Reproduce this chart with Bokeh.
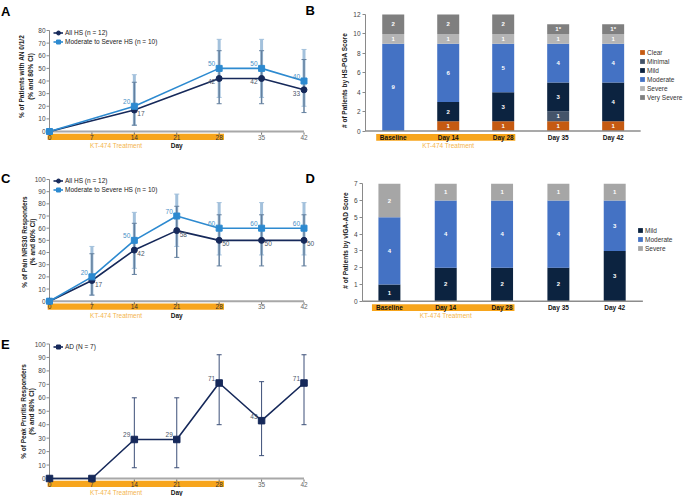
import math
from bokeh.plotting import figure
from bokeh.layouts import column, row
from bokeh.models import (Range1d, ColumnDataSource, Whisker, TeeHead,
                          Legend, LegendItem, FixedTicker)
from bokeh.embed import file_html
from bokeh.resources import INLINE
from bokeh.core.properties import value

# ---------------------------------------------------------------- data
# Panel A: AN 0/1/2 responders (%), 80% CI
days_A = [0, 14, 28, 35, 42]
all_hs_A = [0, 17, 42, 42, 33]
all_hs_A_lo = [0, 5, 22, 22, 15]
all_hs_A_hi = [0, 39, 64, 64, 57]
mod_hs_A = [0, 20, 50, 50, 40]
mod_hs_A_lo = [0, 5, 27, 27, 20]
mod_hs_A_hi = [0, 45, 73, 73, 65]

# Panel C: Pain NRS30 responders (%), 80% CI
days_C = [0, 7, 14, 21, 28, 35, 42]
all_hs_C = [0, 17, 42, 58, 50, 50, 50]
all_hs_C_lo = [0, 5, 22, 36, 29, 29, 29]
all_hs_C_hi = [0, 39, 64, 78, 71, 71, 71]
mod_hs_C = [0, 20, 50, 70, 60, 60, 60]
mod_hs_C_lo = [0, 5, 27, 45, 38, 38, 38]
mod_hs_C_hi = [0, 45, 73, 88, 81, 81, 81]

# Panel E: Peak pruritus responders (%), 80% CI
days_E = [0, 7, 14, 21, 28, 35, 42]
ad_E = [0, 0, 29, 29, 71, 43, 71]
ad_E_lo = [0, 0, 8, 8, 40, 17, 40]
ad_E_hi = [0, 0, 60, 60, 92, 72, 92]

series_all_hs = "All HS (n = 12)"
series_mod_hs = "Moderate to Severe HS (n = 10)"
series_ad = "AD (N = 7)"

day_ticks = [0, 7, 14, 21, 28, 35, 42]
pct_ticks_A = [0, 10, 20, 30, 40, 50, 60, 70, 80]
pct_ticks = [0, 10, 20, 30, 40, 50, 60, 70, 80, 90, 100]
treatment_days = [0, 28]
treatment_label = "KT-474 Treatment"

# Panel B: HS-PGA score counts
visits = ["Baseline", "Day 14", "Day 28", "Day 35", "Day 42"]
treatment_visits = ["Baseline", "Day 14", "Day 28"]
pga_levels = ["Clear", "Minimal", "Mild", "Moderate", "Severe", "Very Severe"]
pga_clear = [0, 1, 1, 1, 1]
pga_minimal = [0, 0, 0, 1, 0]
pga_mild = [0, 2, 3, 3, 4]
pga_moderate = [9, 6, 5, 4, 4]
pga_severe = [1, 1, 1, 1, 1]
pga_very_severe = [2, 2, 2, 1, 1]
pga_very_severe_note = ["", "", "", "*", "*"]
pga_ticks = [0, 2, 4, 6, 8, 10, 12]

# Panel D: vIGA-AD score counts
viga_levels = ["Mild", "Moderate", "Severe"]
viga_mild = [1, 2, 2, 2, 3]
viga_moderate = [4, 4, 4, 4, 3]
viga_severe = [2, 1, 1, 1, 1]
viga_ticks = [0, 1, 2, 3, 4, 5, 6, 7]

# ---------------------------------------------------------------- style
FONT = "Liberation Sans"
ORANGE = "#f7a51c"
ORANGE_TXT = "#f4b54c"
NAVY = "#16295a"
BLUE = "#2d8ad0"
NAVY_TXT = "#4a5568"
BLUE_TXT = "#4a8fc6"
WH_NAVY = "#64809f"
WH_BLUE = "#a3c1dc"
AXIS = "#8a8a8a"
FS = "6.5px"

pga_colors = ["#c55a11", "#44546a", "#0c2340", "#4472c4", "#b4b4b4", "#7f7f7f"]
viga_colors = ["#0c2340", "#4472c4", "#a6a6a6"]


class G:
    def __init__(s, px, py, w, h, bl, br, bt, bb):
        s.px, s.py, s.w, s.h = px, py, w, h
        s.bl, s.br, s.bt, s.bb = bl, br, bt, bb
        s.fl = px + bl
        s.fr = px + w - br
        s.ft = py + bt
        s.fb = py + h - bb


def lin(m, pix):
    v0, p0, v1, p1 = m
    return v0 + (pix - p0) * (v1 - v0) / (p1 - p0)


def make_fig(g, xm, ym, yaxis):
    p = figure(width=g.w, height=g.h,
               x_range=Range1d(lin(xm, g.fl), lin(xm, g.fr)),
               y_range=Range1d(lin(ym, g.fb), lin(ym, g.ft)),
               output_backend="svg", toolbar_location=None,
               x_axis_location=None, y_axis_location="left" if yaxis else None,
               min_border_left=g.bl, min_border_right=g.br,
               min_border_top=g.bt, min_border_bottom=g.bb,
               outline_line_color=None, background_fill_color="white",
               border_fill_color="white")
    p.grid.visible = False
    return p


def style_yaxis(p, ticks, label):
    ax = p.yaxis[0]
    ax.ticker = FixedTicker(ticks=ticks)
    ax.bounds = (ticks[0], ticks[-1])
    ax.axis_label = label
    ax.axis_label_text_font = FONT
    ax.axis_label_text_font_style = "bold"
    ax.axis_label_text_font_size = FS
    ax.axis_label_text_color = "#1a1a1a"
    ax.axis_label_standoff = 2
    ax.axis_line_color = AXIS
    ax.axis_line_width = 1
    ax.major_tick_line_color = AXIS
    ax.major_tick_out = 3
    ax.major_tick_in = 0
    ax.minor_tick_line_color = None
    ax.major_label_text_font = FONT
    ax.major_label_text_font_size = FS
    ax.major_label_text_color = "#444444"
    ax.major_label_standoff = 2


def manual_yaxis(p, xm, ym, ticks, lines, line_x_pages, center_page):
    n = len(ticks)
    x0 = day_ticks[0]
    p.segment(x0=[x0], x1=[x0], y0=[ticks[0]], y1=[ticks[-1]], line_color=AXIS, line_width=1)
    p.segment(x0=[lin(xm, xm[1] - 3)] * n, x1=[x0] * n, y0=ticks, y1=ticks,
              line_color=AXIS, line_width=1)
    p.text(x=[lin(xm, xm[1] - 4)] * n, y=ticks, text=[str(t) for t in ticks],
           text_font=value(FONT), text_font_size=FS, text_color="#444444",
           text_align="right", text_baseline="middle")
    for line, lx in zip(lines, line_x_pages):
        p.text(x=[lin(xm, lx)], y=[lin(ym, center_page)], text=[line], angle=math.pi / 2,
               text_font=value(FONT), text_font_size=FS, text_font_style="bold",
               text_color="#1a1a1a", text_align="center", text_baseline="middle")


def letter(p, xm, ym, text, page_x, page_y):
    p.text(x=[lin(xm, page_x)], y=[lin(ym, page_y)], text=[text], text_font=value(FONT),
           text_font_style="bold", text_font_size="13px", text_baseline="top",
           text_align="left", text_color="#000000")


def day_axis(p, ym, caption_day):
    z = ym[1]
    n = len(day_ticks)
    p.quad(left=[treatment_days[0] - 0.3], right=[treatment_days[1] + 0.8],
           top=[lin(ym, z + 2.3)], bottom=[lin(ym, z + 8.6)],
           fill_color=ORANGE, line_color=None)
    p.segment(x0=[day_ticks[0]], x1=[day_ticks[-1]], y0=[0], y1=[0],
              line_color="#a8a8a8", line_width=2)
    p.segment(x0=day_ticks, x1=day_ticks, y0=[lin(ym, z + 1)] * n, y1=[lin(ym, z + 3.2)] * n,
              line_color="#6e6e6e", line_width=1)
    cols = ["#333333" if treatment_days[0] <= d <= treatment_days[1] else "#666666" for d in day_ticks]
    p.text(x=day_ticks, y=[lin(ym, z + 5.6)] * n, text=[str(d) for d in day_ticks],
           text_font=value(FONT), text_font_size=FS, text_color=cols,
           text_align="center", text_baseline="middle")
    p.text(x=[caption_day], y=[lin(ym, z + 14)], text=[treatment_label],
           text_font=value(FONT), text_font_size=FS, text_color=ORANGE_TXT,
           text_align="center", text_baseline="middle")
    p.text(x=[(day_ticks[0] + day_ticks[-1]) / 2], y=[lin(ym, z + 14)], text=["Day"],
           text_font=value(FONT), text_font_size=FS, text_font_style="bold",
           text_color="#111111", text_align="center", text_baseline="middle")


def whiskers(p, xs, lo, hi, color, width):
    keep = [i for i in range(len(xs)) if hi[i] > lo[i]]
    src = ColumnDataSource(dict(x=[xs[i] for i in keep], lo=[lo[i] for i in keep],
                                hi=[hi[i] for i in keep]))
    p.add_layout(Whisker(source=src, base="x", lower="lo", upper="hi", dimension="height",
                         line_color=color, line_width=width,
                         upper_head=TeeHead(size=5, line_color=color, line_width=1),
                         lower_head=TeeHead(size=5, line_color=color, line_width=1)))


def point_labels(p, xs, ys, sides, color):
    for side in ("lu", "ld", "ru", "rd"):
        idx = [i for i, s in enumerate(sides) if s == side]
        if not idx:
            continue
        p.text(x=[xs[i] for i in idx], y=[ys[i] for i in idx], text=[str(ys[i]) for i in idx],
               text_font=value(FONT), text_font_size=FS, text_color=color,
               text_align="right" if side[0] == "l" else "left",
               text_baseline="bottom" if side[1] == "u" else "top",
               x_offset=-4 if side[0] == "l" else 3,
               y_offset=-2 if side[1] == "u" else 1)


def line_legend(p, g, items, centers, glyph_x_page):
    for (label, rs), c in zip(items, centers):
        lg = Legend(items=[LegendItem(label=label, renderers=rs)],
                    location=(glyph_x_page - g.fl, g.fb - (c + 7.5)),
                    background_fill_alpha=0, border_line_color=None,
                    label_text_font=FONT, label_text_font_size=FS,
                    label_text_color="#222222",
                    glyph_width=10, glyph_height=15, label_height=15, spacing=0,
                    padding=0, margin=0, label_standoff=2)
        p.add_layout(lg)


def series(p, xs, ys, color, marker, size):
    ln = p.line(xs, ys, line_color=color, line_width=1.6)
    sc = p.scatter(xs, ys, marker=marker, size=size, fill_color=color, line_color=color)
    return [ln, sc]


def bar_panel(p, g, ym, counts, levels, colors, notes, width, legend_top_page, legend_x_page):
    xs = list(range(len(visits)))
    data = dict(x=xs)
    for lvl, c in zip(levels, counts):
        data[lvl] = c
    rs = p.vbar_stack(levels, x="x", width=width, color=colors, line_color=None,
                      source=ColumnDataSource(data))
    lx, ly, lt = [], [], []
    for i in xs:
        base = 0
        for j in range(len(levels)):
            c = counts[j][i]
            if c > 0:
                lx.append(i)
                ly.append(base + c / 2)
                lt.append(str(c) + (notes[j][i] if notes[j] else ""))
            base += c
    p.text(x=lx, y=ly, text=lt, text_font=value(FONT), text_font_size="6px",
           text_font_style="bold", text_color="white", text_align="center",
           text_baseline="middle")
    z = ym[1]
    nt = len(treatment_visits)
    p.quad(left=[visits.index(treatment_visits[0]) - 0.31],
           right=[visits.index(treatment_visits[-1]) + 0.22],
           top=[lin(ym, z + 3)], bottom=[lin(ym, z + 9.8)], fill_color=ORANGE, line_color=None)
    p.segment(x0=[-0.5], x1=[len(visits) - 0.5], y0=[0], y1=[0], line_color="#8c8c8c",
              line_width=1.5)
    p.text(x=xs, y=[lin(ym, z + 6.5)] * len(xs), text=visits, text_font=value(FONT),
           text_font_size=FS, text_font_style="bold", text_color="#111111",
           text_align="center", text_baseline="middle")
    p.text(x=[visits.index(treatment_visits[nt // 2])], y=[lin(ym, z + 14.5)],
           text=[treatment_label], text_font=value(FONT), text_font_size=FS,
           text_color=ORANGE_TXT, text_align="center", text_baseline="middle")
    bottom_page = legend_top_page + 9 * len(levels)
    lg = Legend(items=[LegendItem(label=l, renderers=[r]) for l, r in zip(levels, rs)],
                location=(legend_x_page - g.fl, g.fb - bottom_page),
                background_fill_alpha=0, border_line_color=None,
                label_text_font=FONT, label_text_font_size=FS, label_text_color="#333333",
                glyph_width=6, glyph_height=6, label_height=9, spacing=0,
                padding=0, margin=0, label_standoff=2)
    p.add_layout(lg)


# ---------------------------------------------------------------- panel A
gA = G(0, 0, 338, 160, 0, 0, 0, 0)
xmA = (0, 49, 42, 303.5)
ymA = (0, 131, 80, 30)
pA = make_fig(gA, xmA, ymA, False)
manual_yaxis(pA, xmA, ymA, pct_ticks_A, ["% of Patients with AN 0/1/2", "(% and 80% CI)"],
             [21, 29.5], 76)
day_axis(pA, ymA, 11)
whiskers(pA, days_A, mod_hs_A_lo, mod_hs_A_hi, WH_BLUE, 3)
whiskers(pA, days_A, all_hs_A_lo, all_hs_A_hi, WH_NAVY, 1.5)
rA1 = series(pA, days_A, all_hs_A, NAVY, "circle", 6)
rA2 = series(pA, days_A, mod_hs_A, BLUE, "square", 6)
point_labels(pA, days_A, all_hs_A, ["", "rd", "ld", "ld", "ld"], NAVY_TXT)
point_labels(pA, days_A, mod_hs_A, ["", "lu", "lu", "lu", "lu"], BLUE_TXT)
line_legend(pA, gA, [(series_all_hs, rA1), (series_mod_hs, rA2)], [32.3, 41.3], 53)
letter(pA, xmA, ymA, "A", 0.5, 3)
letter(pA, xmA, ymA, "B", 305, 2)

# ---------------------------------------------------------------- panel B
gB = G(338, 0, 345, 160, 24, 0, 0, 0)
xmB = (0, 390, 4, 612)
ymB = (0, 130.5, 12, 14)
pB = make_fig(gB, xmB, ymB, True)
style_yaxis(pB, pga_ticks, "# of Patients by HS-PGA Score")
bar_panel(pB, gB, ymB,
          [pga_clear, pga_minimal, pga_mild, pga_moderate, pga_severe, pga_very_severe],
          pga_levels, pga_colors, [None, None, None, None, None, pga_very_severe_note],
          0.4, 47.5, 636)

# ---------------------------------------------------------------- panel C
gC = G(0, 160, 338, 160, 0, 0, 0, 0)
xmC = (0, 49, 42, 303.5)
ymC = (0, 300.7, 100, 179)
pC = make_fig(gC, xmC, ymC, False)
manual_yaxis(pC, xmC, ymC, pct_ticks, ["% of Pain NRS30 Responders", "(% and 80% CI)"],
             [23.5, 32], 241.5)
day_axis(pC, ymC, 11)
whiskers(pC, days_C, mod_hs_C_lo, mod_hs_C_hi, WH_BLUE, 3)
whiskers(pC, days_C, all_hs_C_lo, all_hs_C_hi, WH_NAVY, 1.5)
rC1 = series(pC, days_C, all_hs_C, NAVY, "circle", 6)
rC2 = series(pC, days_C, mod_hs_C, BLUE, "square", 6)
point_labels(pC, days_C, all_hs_C, ["", "rd", "rd", "rd", "rd", "rd", "rd"], NAVY_TXT)
point_labels(pC, days_C, mod_hs_C, ["", "lu", "lu", "lu", "lu", "lu", "lu"], BLUE_TXT)
line_legend(pC, gC, [(series_all_hs, rC1), (series_mod_hs, rC2)], [180.7, 189.2], 53)
letter(pC, xmC, ymC, "C", 0.5, 170.5)
letter(pC, xmC, ymC, "D", 305, 170)

# ---------------------------------------------------------------- panel D
gD = G(338, 160, 345, 160, 23, 0, 0, 0)
xmD = (0, 388, 4, 614)
ymD = (0, 300.7, 7, 183.3)
pD = make_fig(gD, xmD, ymD, True)
style_yaxis(pD, viga_ticks, "# of Patients by vIGA-AD Score")
bar_panel(pD, gD, ymD, [viga_mild, viga_moderate, viga_severe],
          viga_levels, viga_colors, [None, None, None], 0.39, 225.5, 636)

# ---------------------------------------------------------------- panel E
gE = G(0, 320, 338, 176, 0, 0, 0, 0)
xmE = (0, 49, 42, 303.5)
ymE = (0, 478, 100, 343.5)
pE = make_fig(gE, xmE, ymE, False)
manual_yaxis(pE, xmE, ymE, pct_ticks, ["% of Peak Pruritis Responders", "(% and 80% CI)"],
             [22.5, 31], 411)
day_axis(pE, ymE, 11)
whiskers(pE, days_E, ad_E_lo, ad_E_hi, "#3c4f78", 1)
rE = series(pE, days_E, ad_E, NAVY, "square", 6.5)
point_labels(pE, days_E, ad_E, ["", "", "lu", "lu", "lu", "lu", "lu"], NAVY_TXT)
line_legend(pE, gE, [(series_ad, rE)], [346], 53)
letter(pE, xmE, ymE, "E", 0.5, 336)

layout = column(row(pA, pB), row(pC, pD), pE)
open("out.html", "w").write(file_html(layout, INLINE))
